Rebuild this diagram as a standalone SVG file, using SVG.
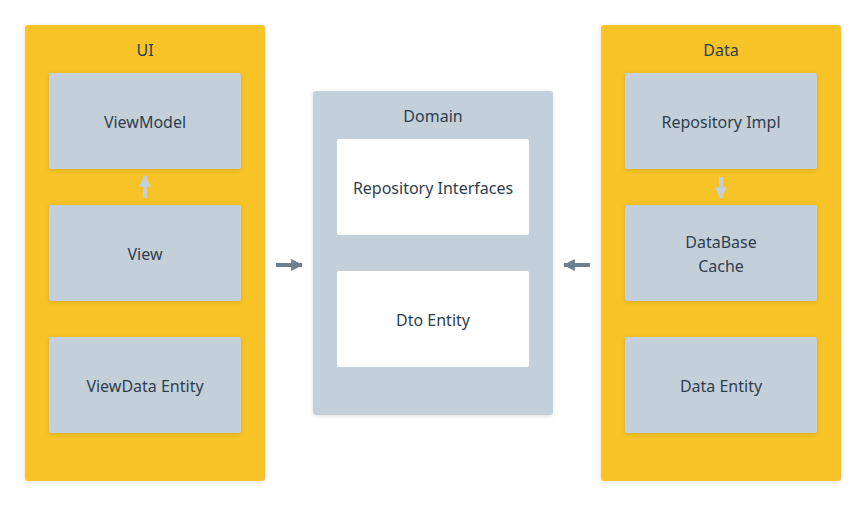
<svg xmlns="http://www.w3.org/2000/svg" width="866" height="506" viewBox="0 0 866 506">
<defs>
<filter id="sh" x="-10%" y="-10%" width="120%" height="120%">
<feDropShadow dx="0" dy="1" stdDeviation="2" flood-color="#000" flood-opacity="0.12"/>
</filter>
<marker id="ah" viewBox="0 0 10 10" refX="9" refY="5" markerWidth="3" markerHeight="3" orient="auto" markerUnits="strokeWidth">
<path d="M0,0 L10,5 L0,10 z" fill="#6e7f8d"/>
</marker>
<marker id="ahl" viewBox="0 0 10 10" refX="9" refY="5" markerWidth="3" markerHeight="3" orient="auto" markerUnits="strokeWidth">
<path d="M0,0 L10,5 L0,10 z" fill="#c3d0da"/>
</marker>
</defs>
<style>
.cont{fill:#f7c325;filter:url(#sh)}
.dom{fill:#c3d0da;filter:url(#sh)}
.box{fill:#c3d0da;filter:url(#sh)}
.wbox{fill:#ffffff}
text{font-family:"Noto Sans","Liberation Sans",sans-serif;font-size:16px;fill:#2f3e4d;text-anchor:middle;dominant-baseline:central}
.dark{stroke:#6e7f8d;stroke-width:4;fill:none;marker-end:url(#ah)}
.light{stroke:#c3d0da;stroke-width:4;fill:none;marker-end:url(#ahl)}
</style>
<rect width="866" height="506" fill="#ffffff"/>
<g id="ui">
<rect class="cont" x="25" y="25" width="240" height="456" rx="3"/>
<text x="145" y="50">UI</text>
</g>
<g id="viewmodel">
<rect class="box" x="49" y="73" width="192" height="96" rx="2"/>
<text x="145" y="122">ViewModel</text>
</g>
<g id="view">
<rect class="box" x="49" y="205" width="192" height="96" rx="2"/>
<text x="145" y="254">View</text>
</g>
<g id="viewdata">
<rect class="box" x="49" y="337" width="192" height="96" rx="2"/>
<text x="145" y="386">ViewData Entity</text>
</g>
<g id="domain">
<rect class="dom" x="313" y="91" width="240" height="324" rx="3"/>
<text x="433" y="116">Domain</text>
</g>
<g id="repoif">
<rect class="wbox" x="337" y="139" width="192" height="96" rx="2"/>
<text x="433" y="188">Repository Interfaces</text>
</g>
<g id="dto">
<rect class="wbox" x="337" y="271" width="192" height="96" rx="2"/>
<text x="433" y="320">Dto Entity</text>
</g>
<g id="data">
<rect class="cont" x="601" y="25" width="240" height="456" rx="3"/>
<text x="721" y="50">Data</text>
</g>
<g id="repoimpl">
<rect class="box" x="625" y="73" width="192" height="96" rx="2"/>
<text x="721" y="122">Repository Impl</text>
</g>
<g id="dbcache">
<rect class="box" x="625" y="205" width="192" height="96" rx="2"/>
<text x="721" y="242">DataBase</text>
<text x="721" y="266">Cache</text>
</g>
<g id="dataentity">
<rect class="box" x="625" y="337" width="192" height="96" rx="2"/>
<text x="721" y="386">Data Entity</text>
</g>
<g id="connectors">
<line class="light" x1="145" y1="198" x2="145" y2="176"/>
<line class="light" x1="721" y1="177" x2="721" y2="198"/>
<line class="dark" x1="276" y1="265" x2="302" y2="265"/>
<line class="dark" x1="590" y1="265" x2="564" y2="265"/>
</g>
</svg>
